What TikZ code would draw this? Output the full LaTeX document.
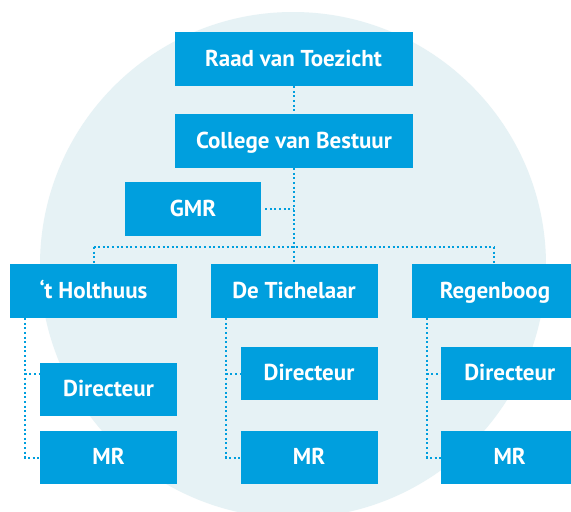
\documentclass[tikz,border=0pt]{standalone}
\usepackage{fontspec}
\setmainfont{PT Sans}
\definecolor{boxblue}{RGB}{0,159,222}
\definecolor{disc}{RGB}{230,242,245}
\begin{document}
\begin{tikzpicture}[x=1pt,y=-1pt,
  orgbox/.style={fill=boxblue, text=white, inner sep=0pt,
    font=\bfseries\fontsize{23}{26}\selectfont,
    text height=14pt, text depth=0pt,
    minimum height=54pt},
  wide/.style={orgbox, minimum width=238pt},
  school/.style={orgbox, minimum width=167pt},
  unit/.style={orgbox, minimum width=137pt, minimum height=53.5pt},
  link/.style={draw=boxblue, line width=2pt, dash pattern=on 2pt off 2.6pt}]
  \useasboundingbox (0,0) rectangle (571,512);
  \clip (0,0) rectangle (571,512);
  \fill[white] (0,0) rectangle (571,512);
  % background disc
  \fill[disc] (293,265) circle[radius=253];

  % governance
  \node[wide] (rvt) at (293.5,59) {Raad van Toezicht};
  \node[wide] (cvb) at (294,141) {College van Bestuur};
  \node[orgbox, minimum width=136pt] (gmr) at (193,209) {GMR};

  % schools
  \node[school] (holt)  at (93.5,291) {‘t Holthuus};
  \node[school] (tich)  at (294,291)  {De Tichelaar};
  \node[school] (regen) at (495,291)  {Regenboog};

  % school units
  \node[unit] (dir1) at (108.5,389.5) {Directeur};
  \node[unit] (mr1)  at (108.5,457.5) {MR};
  \node[unit] (dir2) at (309,373.5)   {Directeur};
  \node[unit] (mr2)  at (309,457.5)   {MR};
  \node[unit] (dir3) at (509.7,373.5) {Directeur};
  \node[unit] (mr3)  at (509.7,457.5) {MR};

  % junction points
  \coordinate (bus) at (293.5,247);
  \coordinate (h1) at ([xshift=15pt]holt.south west);
  \coordinate (h2) at ([xshift=15.5pt]tich.south west);
  \coordinate (h3) at ([xshift=15.5pt]regen.south west);
  \coordinate (s1) at ([yshift=-11.5pt]dir1.north west);

  % connectors
  \draw[link] (rvt.south) -- (rvt.south |- cvb.north);
  \draw[link] (cvb.south -| bus) -- (bus |- tich.north);
  \draw[link, shorten <=4pt] (gmr.east) -- (gmr.east -| bus);
  \draw[link] (holt.north |- bus) -- ([xshift=-1pt]regen.north |- bus);
  \draw[link] (holt.north |- bus) -- (holt.north);
  \draw[link] ([xshift=-1pt]regen.north |- bus) -- ([xshift=-1pt]regen.north);

  \draw[link] (h1) |- (mr1.west);
  \draw[link] (h1 |- s1) -- (s1);
  \draw[link] (h2) |- (mr2.west);
  \draw[link] (h2 |- dir2.west) -- (dir2.west);
  \draw[link] (h3) |- (mr3.west);
  \draw[link] (h3 |- dir3.west) -- (dir3.west);
\end{tikzpicture}
\end{document}
